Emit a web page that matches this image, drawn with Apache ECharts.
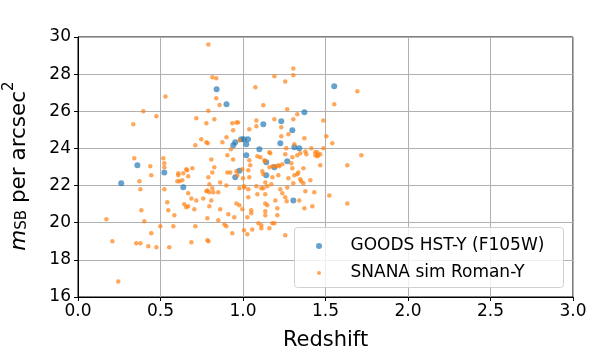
<!DOCTYPE html>
<html><head><meta charset="utf-8">
<script src="https://cdn.jsdelivr.net/npm/echarts@6/dist/echarts.min.js"></script>
<style>html,body{margin:0;padding:0;background:#fff}#c{width:597px;height:359px}</style>
</head><body><div id="c"></div>
<script>
const xTicks = [0.0, 0.5, 1.0, 1.5, 2.0, 2.5, 3.0];
const yTicks = [16, 18, 20, 22, 24, 26, 28, 30];
const seriesNames = ['GOODS HST-Y (F105W)', 'SNANA sim Roman-Y'];

const goodsZ = [0.84,0.90,0.99,1.005,1.03,0.953,0.941,1.02,1.02,0.36,0.978,0.523,0.262,0.638,0.953,1.553,1.372,1.232,1.123,1.299,1.226,1.311,1.341,1.099,1.268,1.141,1.141,1.19,1.305];
const goodsM = [27.18,26.38,24.49,24.49,24.49,24.33,24.17,24.22,23.63,23.10,22.80,22.71,22.12,21.91,22.45,27.35,25.95,25.46,25.30,24.98,24.28,24.06,24.01,23.95,23.31,23.25,22.55,22.98,21.20];

const simZ = [0.79,0.814,0.838,0.838,0.858,0.53,0.79,0.396,0.475,0.335,0.717,0.826,0.778,0.935,0.96,0.97,0.94,0.90,0.747,0.778,0.786,0.711,0.875,0.98,0.927,0.905,0.94,0.341,0.438,0.517,0.523,0.523,0.808,0.826,
0.444,0.372,0.378,0.523,0.541,0.547,0.584,0.384,0.402,0.172,0.499,0.578,0.711,0.444,0.208,0.353,0.378,0.426,0.475,0.553,0.687,0.784,0.79,0.244,0.608,0.608,0.638,0.656,0.662,0.693,0.668,0.602,0.614,0.632,0.79,0.814,0.905,0.923,0.899,0.862,0.796,0.814,0.778,0.784,0.796,0.82,0.85,0.668,0.687,0.717,0.759,0.808,0.644,0.656,0.668,0.705,0.796,0.862,0.784,0.85,0.887,0.899,0.911,0.947,0.935,0.96,0.978,0.996,0.978,1.0,1.006,1.006,1.026,
1.305,1.305,1.19,1.256,1.075,1.693,1.553,1.123,1.268,1.329,1.19,1.305,1.081,1.081,1.232,1.487,1.038,1.505,1.232,1.275,1.372,1.541,1.311,1.262,1.414,1.45,1.487,1.378,1.384,1.329,1.347,1.438,1.438,1.456,1.468,1.45,1.256,1.299,1.16,1.165,1.087,1.105,1.129,1.135,1.038,1.044,1.717,1.632,1.468,1.16,1.196,1.214,1.238,1.293,1.299,1.366,
1.632,1.523,1.032,0.996,0.96,0.965,1.038,1.117,1.123,1.178,1.22,1.214,1.178,1.275,1.311,1.335,1.329,1.353,1.366,1.347,1.408,1.305,1.135,1.172,1.008,1.032,1.081,1.111,1.123,1.147,1.226,1.268,1.238,1.256,1.265,1.378,1.432,1.341,1.42,1.372,1.032,1.087,1.135,1.135,1.147,1.196,1.208,1.208,1.05,1.05,1.026,1.135,1.135,1.093,1.111,1.111,1.056,1.16,1.178,1.19,1.256];
const simM = [29.6,27.83,27.78,26.7,26.34,26.8,26.03,26.0,25.73,25.3,25.62,25.57,25.35,25.35,25.4,25.4,24.98,24.6,24.49,24.33,24.28,24.17,24.33,24.44,23.95,23.63,23.41,23.47,23.04,23.47,23.2,22.98,23.41,22.98,
22.55,22.23,21.8,21.8,21.1,20.67,20.4,20.67,20.08,20.18,19.81,19.81,19.81,19.43,19.0,18.89,18.89,18.73,18.68,18.68,18.95,19.05,19.0,16.84,22.66,22.55,22.66,22.88,22.82,22.93,22.5,22.23,22.23,22.28,22.45,22.71,22.71,22.71,22.01,22.17,22.07,21.85,21.69,21.74,21.64,21.64,21.64,21.58,21.31,21.2,21.31,21.2,20.99,20.83,20.88,20.72,20.88,20.72,20.24,20.13,19.91,19.81,20.45,20.29,19.43,21.04,20.94,20.72,21.85,22.39,21.96,19.59,19.38,
28.31,27.94,27.88,27.61,27.29,27.08,26.38,26.32,26.11,25.84,25.57,25.57,25.51,25.19,25.14,25.51,25.03,24.65,24.65,24.76,24.55,24.28,24.22,24.01,24.01,23.79,24.01,23.84,23.68,23.63,23.74,23.79,23.63,23.63,23.68,23.58,23.68,23.52,23.79,23.74,23.58,23.52,23.36,23.31,23.36,23.09,23.63,23.09,23.09,22.98,23.04,23.09,23.15,23.2,22.93,22.93,
21.04,21.47,22.82,22.88,22.77,22.55,22.45,22.77,22.61,23.04,23.04,22.55,22.45,22.39,22.55,22.71,22.61,22.23,22.12,22.34,22.28,22.12,22.17,22.07,21.9,21.8,21.96,21.85,21.85,21.96,21.8,21.9,21.58,21.37,21.15,21.69,21.64,21.2,20.88,20.78,21.37,21.53,21.53,21.04,20.94,21.2,20.78,20.4,20.67,20.51,20.29,20.62,20.4,19.97,19.86,19.7,19.64,19.7,19.97,19.97,19.32];

const FONT = 'DejaVu Sans';
const pair = (a, b) => a.map((v, i) => [v, b[i]]);
const chart = echarts.init(document.getElementById('c'), null, {renderer: 'canvas'});
const legendText = {fontSize: 17, lineHeight: 20, color: '#000', fontFamily: FONT,
  rich: {sp: {width: 14}, n: {fontSize: 17, lineHeight: 20, color: '#000', fontFamily: FONT}}};
chart.setOption({
  animation: false,
  textStyle: {fontFamily: FONT},
  grid: {left: 78, right: 24, top: 37, bottom: 62, show: true, borderColor: '#000', borderWidth: 1, backgroundColor: 'transparent'},
  xAxis: {
    type: 'value', min: xTicks[0], max: xTicks[xTicks.length - 1], interval: 0.5,
    name: 'Redshift', nameLocation: 'middle', nameGap: 33,
    nameTextStyle: {fontSize: 21, color: '#000', fontFamily: FONT},
    axisLine: {lineStyle: {color: '#000', width: 1}},
    axisTick: {show: true, length: 4, lineStyle: {color: '#000'}},
    axisLabel: {fontSize: 17, color: '#000', margin: 6, fontFamily: FONT, formatter: v => v.toFixed(1)},
    splitLine: {show: true, lineStyle: {color: '#b0b0b0', width: 1}}
  },
  yAxis: {
    type: 'value', min: yTicks[0], max: yTicks[yTicks.length - 1], interval: 2,
    axisLine: {show: true, lineStyle: {color: '#000', width: 1}},
    axisTick: {show: true, length: 4, lineStyle: {color: '#000'}},
    axisLabel: {fontSize: 17, color: '#000', margin: 7, fontFamily: FONT},
    splitLine: {show: true, lineStyle: {color: '#b0b0b0', width: 1}}
  },
  graphic: [
    {type: 'text', x: 16, y: 166, rotation: Math.PI / 2, z: 10,
     style: {text: '{m|m}{sub|SB}{t| per arcsec}{sup|2}', align: 'center', verticalAlign: 'middle',
       rich: {
         m: {fontSize: 21.5, fontStyle: 'italic', fontFamily: FONT, fill: '#000', verticalAlign: 'bottom'},
         sub: {fontSize: 15, fontFamily: FONT, fill: '#000', padding: [6, 0, 0, 0], verticalAlign: 'bottom'},
         t: {fontSize: 21.5, fontFamily: FONT, fill: '#000', verticalAlign: 'bottom'},
         sup: {fontSize: 15, fontFamily: FONT, fill: '#000', padding: [0, 0, 13, 0], verticalAlign: 'bottom'}
       }}},
    {type: 'rect', shape: {x: 294.5, y: 227.5, width: 269, height: 60, r: 3}, z: 3,
     style: {fill: 'rgba(255,255,255,0.8)', stroke: '#d0d0d0', lineWidth: 1}}
  ],
  legend: [
    {data: [seriesNames[0]], orient: 'vertical', left: 316, top: 236, icon: 'circle', itemHeight: 6, itemGap: 0, z: 5,
     formatter: n => '{sp|}{n|' + n + '}', textStyle: legendText, padding: 0},
    {data: [seriesNames[1]], orient: 'vertical', left: 317, top: 263, icon: 'circle', itemHeight: 4, itemGap: 0, z: 5,
     formatter: n => '{sp|}{n|' + n + '}', textStyle: legendText, padding: 0}
  ],
  series: [
    {name: seriesNames[0], type: 'scatter', symbol: 'circle', symbolSize: 6, data: pair(goodsZ, goodsM),
     itemStyle: {color: 'rgba(31,119,180,0.85)'}, z: 2},
    {name: seriesNames[1], type: 'scatter', symbol: 'circle', symbolSize: 4.5, data: pair(simZ, simM),
     itemStyle: {color: 'rgba(255,127,14,0.85)'}, z: 2}
  ]
});
</script></body></html>
